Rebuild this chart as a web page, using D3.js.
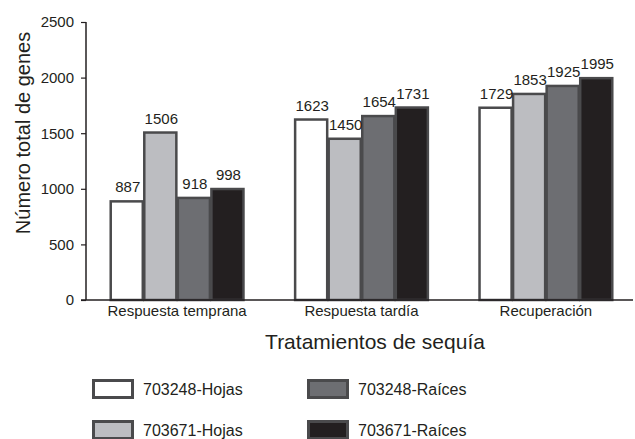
<!DOCTYPE html>
<html>
<head>
<meta charset="utf-8">
<script src="https://cdn.jsdelivr.net/npm/d3@7"></script>
<style>
  body { margin: 0; background: #fff; }
  svg { font-family: "Liberation Sans", Arial, sans-serif; }
</style>
</head>
<body>
<svg width="635" height="439"></svg>
<script>
// data
var treatments = ["Respuesta temprana", "Respuesta tardía", "Recuperación"];
var seriesNames = ["703248-Hojas", "703671-Hojas", "703248-Raíces", "703671-Raíces"];
var seriesColors = ["#ffffff", "#bcbdc1", "#6d6e72", "#231f20"];
var hojas703248 = [887, 1623, 1729];
var hojas703671 = [1506, 1450, 1853];
var raices703248 = [918, 1654, 1925];
var raices703671 = [998, 1731, 1995];
var yTicks = [0, 500, 1000, 1500, 2000, 2500];

var seriesValues = [hojas703248, hojas703671, raices703248, raices703671];

var svg = d3.select("svg"),
    margin = {top: 22, left: 86, bottom: 300, right: 637};

var x0 = d3.scaleBand()
    .domain(treatments)
    .range([margin.left, margin.right])
    .paddingInner(0.272)
    .paddingOuter(0.13);

var x1 = d3.scaleBand()
    .domain(seriesNames)
    .range([0, x0.bandwidth()]);

var y = d3.scaleLinear()
    .domain([0, 2500])
    .range([margin.bottom, margin.top]);

var stroke = "#4a4a4c";

// bars
var groups = svg.selectAll("g.group")
    .data(treatments)
    .enter().append("g")
    .attr("class", "group")
    .attr("transform", function(d) { return "translate(" + x0(d) + ",0)"; });

function rows(d, i) {
  return seriesNames.map(function(s, j) { return {s: s, j: j, v: seriesValues[j][i]}; });
}

groups.selectAll("rect")
    .data(rows)
    .enter().append("rect")
    .attr("x", function(d) { return x1(d.s) + 0.75; })
    .attr("y", function(d) { return y(d.v); })
    .attr("width", x1.bandwidth() - 1.5)
    .attr("height", function(d) { return y(0) - y(d.v); })
    .attr("fill", function(d) { return seriesColors[d.j]; })
    .attr("stroke", stroke)
    .attr("stroke-width", 2.5);

groups.selectAll("text.val")
    .data(rows)
    .enter().append("text")
    .attr("class", "val")
    .attr("x", function(d) { return x1(d.s) + x1.bandwidth() / 2 + 1; })
    .attr("y", function(d) { return y(d.v) - 9; })
    .attr("text-anchor", "middle")
    .attr("font-size", 15)
    .attr("fill", "#231f20")
    .text(function(d) { return d.v; });

// y axis
var yAxis = d3.axisLeft(y).tickValues(yTicks).tickFormat(d3.format("d")).tickSize(5).tickPadding(7);
var gy = svg.append("g")
    .attr("transform", "translate(" + margin.left + ",0)")
    .call(yAxis);
gy.select(".domain").remove();
gy.append("line")
    .attr("x1", 0).attr("x2", 0)
    .attr("y1", y(2500)).attr("y2", y(0))
    .attr("stroke", "#231f20").attr("stroke-width", 1.5);
gy.selectAll(".tick line").attr("stroke", "#231f20").attr("stroke-width", 1.2);
gy.selectAll(".tick text")
    .attr("font-size", 15)
    .attr("font-family", "Liberation Sans, Arial, sans-serif")
    .attr("fill", "#231f20");

// x axis line
svg.append("line")
    .attr("x1", margin.left - 5).attr("x2", 633)
    .attr("y1", y(0)).attr("y2", y(0))
    .attr("stroke", "#231f20").attr("stroke-width", 1.5);

svg.selectAll("text.cat")
    .data(treatments)
    .enter().append("text")
    .attr("class", "cat")
    .attr("x", function(d) { return x0(d) + x0.bandwidth() / 2; })
    .attr("y", 316)
    .attr("text-anchor", "middle")
    .attr("font-size", 15)
    .attr("fill", "#231f20")
    .text(function(d) { return d; });

// axis titles
svg.append("text")
    .attr("x", 375).attr("y", 349)
    .attr("text-anchor", "middle")
    .attr("font-size", 21)
    .attr("fill", "#231f20")
    .text("Tratamientos de sequía");

svg.append("text")
    .attr("transform", "translate(30,133) rotate(-90)")
    .attr("text-anchor", "middle")
    .attr("font-size", 20)
    .attr("fill", "#231f20")
    .text("Número total de genes");

// legend
var legendPos = [[92, 379], [92, 420], [307, 379], [307, 420]];
var legend = svg.selectAll("g.legend")
    .data(seriesNames)
    .enter().append("g")
    .attr("class", "legend")
    .attr("transform", function(d, i) { return "translate(" + legendPos[i][0] + "," + legendPos[i][1] + ")"; });

legend.append("rect")
    .attr("x", 1.5).attr("y", 1.5)
    .attr("width", 39).attr("height", 17)
    .attr("fill", function(d, i) { return seriesColors[i]; })
    .attr("stroke", stroke)
    .attr("stroke-width", 3);

legend.append("text")
    .attr("x", 51).attr("y", 16)
    .attr("font-size", 16)
    .attr("fill", "#231f20")
    .text(function(d) { return d; });
</script>
</body>
</html>
